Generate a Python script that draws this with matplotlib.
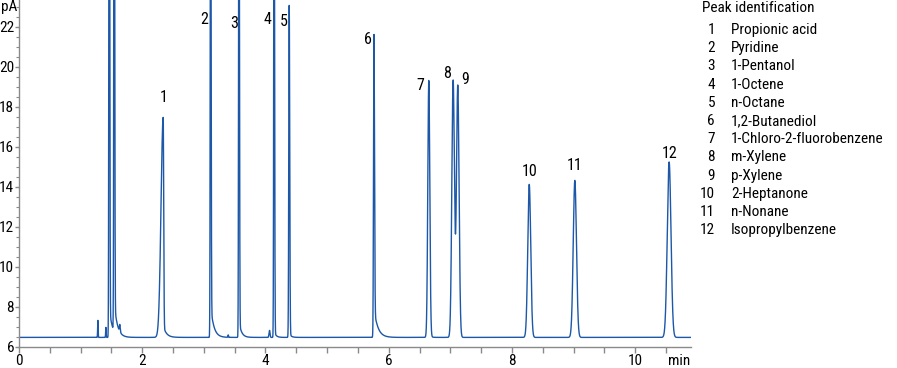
import numpy as np
import matplotlib
matplotlib.use("Agg")
import matplotlib.pyplot as plt
from matplotlib.ticker import MultipleLocator

plt.rcParams['font.family'] = ['Roboto Condensed', 'Archivo Narrow', 'DejaVu Sans']

# peak table (min, pA above baseline)
baseline = 6.48
rt      = [1.28, 1.41, 1.465, 1.545, 1.635, 2.34, 3.11, 3.395, 3.57, 4.065, 4.14, 4.385, 5.76, 6.65, 7.045, 7.12, 8.28, 9.02, 10.55]
height  = [0.85, 0.50, 40.0, 40.0, 0.35, 11.0, 30.0, 0.12, 30.0, 0.35, 30.0, 16.6, 15.15, 12.85, 12.85, 12.6, 7.65, 7.85, 8.77]
sig_l   = [0.004, 0.004, 0.006, 0.006, 0.006, 0.035, 0.006, 0.004, 0.006, 0.008, 0.006, 0.007, 0.007, 0.016, 0.021, 0.021, 0.024, 0.026, 0.030]
sig_r   = [0.004, 0.004, 0.007, 0.007, 0.008, 0.008, 0.007, 0.004, 0.007, 0.008, 0.007, 0.008, 0.009, 0.016, 0.021, 0.021, 0.024, 0.026, 0.030]
tail_a  = [0.0, 0.0, 1.5, 1.5, 0.0, 0.6, 1.6, 0.0, 0.8, 0.0, 0.3, 0.2, 1.5, 0.1, 0.0, 0.0, 0.0, 0.0, 0.0]
tail_t  = [0.02, 0.02, 0.05, 0.05, 0.02, 0.05, 0.05, 0.02, 0.04, 0.02, 0.03, 0.03, 0.06, 0.03, 0.02, 0.02, 0.02, 0.02, 0.02]

peak_no  = ['1', '2', '3', '4', '5', '6', '7', '8', '9', '10', '11', '12']
label_xy = [(2.34, 18.45), (3.00, 22.35), (3.49, 22.15), (4.04, 22.35), (4.30, 22.25), (5.66, 21.35),
            (6.51, 19.05), (6.94, 19.7), (7.24, 19.4), (8.28, 14.75), (9.02, 15.1), (10.56, 15.7)]

compounds = ['Propionic acid', 'Pyridine', '1-Pentanol', '1-Octene', 'n-Octane', '1,2-Butanediol',
             '1-Chloro-2-fluorobenzene', 'm-Xylene', 'p-Xylene', '2-Heptanone', 'n-Nonane', 'Isopropylbenzene']

t = np.linspace(0, 10.9, 12000)
signal = np.full_like(t, baseline)
for r, h, sl, sr, ta, tt in zip(rt, height, sig_l, sig_r, tail_a, tail_t):
    s = np.where(t < r, sl, sr)
    signal += h * np.exp(-0.5 * ((t - r) / s) ** 2)
    after = t > r
    ramp = 1 - np.exp(-((t[after] - r) / (2 * sr)) ** 2)
    signal[after] += ta * ramp * np.exp(-(t[after] - r) / tt)

W, H = 897, 368
fig = plt.figure(figsize=(W / 100, H / 100), dpi=100)
ax = fig.add_axes([19 / W, 21 / H, (690.7 - 19) / W, 347 / H])
ax.plot(t, signal, color='#1c57a8', lw=1.0)
ax.set_xlim(0, 10.9)
ax.set_ylim(6, 23.35)

for s in ['top', 'right']:
    ax.spines[s].set_visible(False)
for s in ['left', 'bottom']:
    ax.spines[s].set_color('#8a8a8a')
    ax.spines[s].set_linewidth(1.0)

ax.xaxis.set_major_locator(MultipleLocator(2))
ax.xaxis.set_minor_locator(MultipleLocator(0.5))
ax.yaxis.set_major_locator(MultipleLocator(2))
ax.yaxis.set_minor_locator(MultipleLocator(0.5))
ax.tick_params(axis='both', which='major', color='#8a8a8a', labelsize=11)
ax.tick_params(axis='x', which='both', length=4, width=1, pad=1)
ax.tick_params(axis='y', which='major', length=3, width=1, pad=0.5)
ax.tick_params(axis='y', which='minor', length=2.5, width=0.8, color='#8a8a8a')
ax.tick_params(axis='x', which='minor', color='#8a8a8a')

ax.text(-0.002, 1.0, 'pA', transform=ax.transAxes, ha='right', va='top', fontsize=11)
ax.text(1.0, -0.02, 'min', transform=ax.transAxes, ha='right', va='top', fontsize=11)

for lab, (lx, ly) in zip(peak_no, label_xy):
    ax.text(lx, ly, lab, ha='center', va='center', fontsize=11.5)

# peak identification list
fig.text(702 / W, 1 - 8 / H, 'Peak identification', ha='left', va='center', fontsize=11)
for i, (n, name) in enumerate(zip(peak_no, compounds)):
    y = 1 - (30 + 18.2 * i) / H
    fig.text(715 / W, y, n, ha='right', va='center', fontsize=11)
    fig.text(731 / W, y, name, ha='left', va='center', fontsize=11)

fig.savefig('out.png', dpi=100)
